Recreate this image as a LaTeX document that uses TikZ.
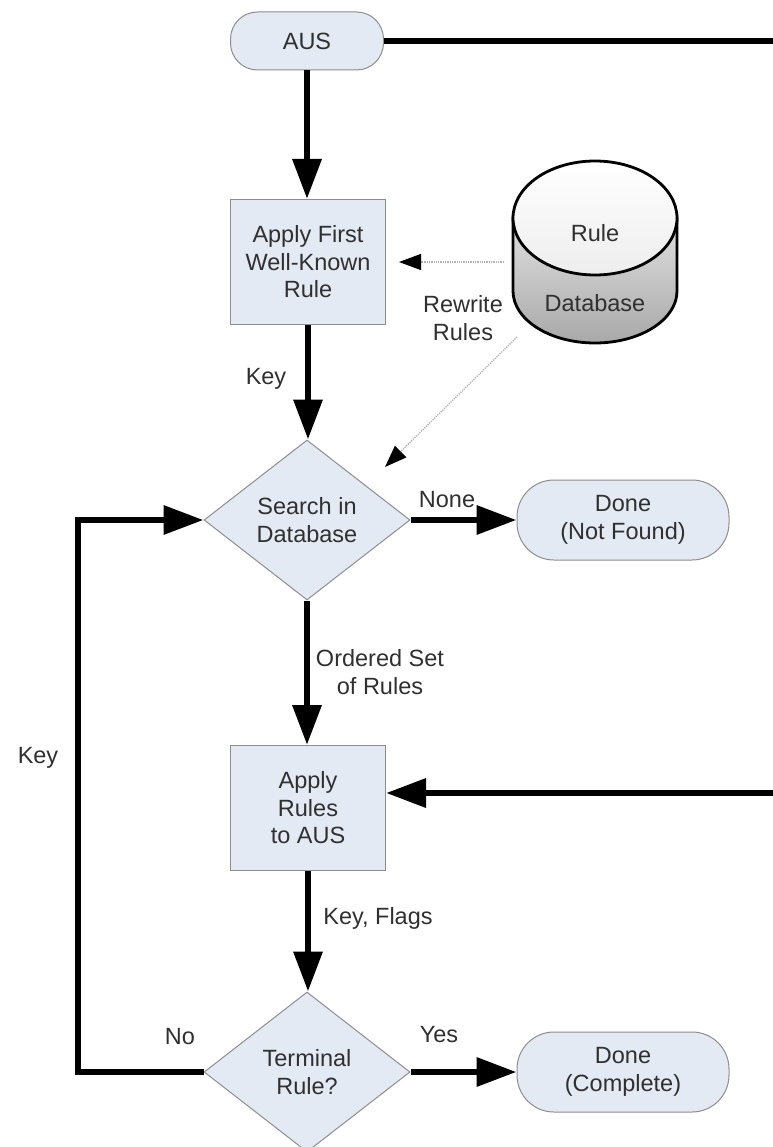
\documentclass[tikz,border=0pt]{standalone}
\usepackage{fontspec}
\setmainfont{Liberation Sans}
\usetikzlibrary{arrows.meta,shapes.geometric,calc}
\definecolor{boxfill}{HTML}{E3EAF4}
\definecolor{boxline}{HTML}{8E8E8E}
\definecolor{txt}{HTML}{303030}
\begin{document}
\begin{tikzpicture}[x=1pt,y=-1pt,
  every node/.style={font=\fontsize{23.5}{27.5}\selectfont, align=center, text=txt},
  procbox/.style={draw=boxline, fill=boxfill, line width=1pt, minimum width=155pt, minimum height=125pt, inner sep=0pt},
  termbox/.style={draw=boxline, fill=boxfill, line width=1pt, rounded corners=37pt, minimum width=212pt, minimum height=80pt, inner sep=0pt},
  decbox/.style={draw=boxline, fill=boxfill, line width=1pt, diamond, minimum width=206pt, minimum height=160pt, inner sep=0pt, aspect=1.29},
  flow/.style={draw=black, line width=6.5pt, -{Triangle[length=40pt,width=28pt]}},
  flowline/.style={draw=black, line width=6.5pt},
  dotarrow/.style={draw=black!30, line width=1.3pt, densely dotted, -{Triangle[length=22pt,width=16pt,color=black,fill=black]}},
  lbl/.style={font=\fontsize{23.5}{27.5}\selectfont}
]
\path[use as bounding box, fill=white] (0,0) rectangle (772,1147);

% nodes
\node[termbox, minimum width=153pt, minimum height=58pt, rounded corners=27pt] (aus) at (307,41) {AUS};
\node[procbox] (apply1) at (308,262) {Apply First\\Well-Known\\Rule};
\node[decbox] (search) at (307,520) {Search in\\Database};
\node[termbox] (notfound) at (623,520) {Done\\(Not Found)};
\node[procbox] (apply2) at (308,808) {Apply\\Rules\\to AUS};
\node[decbox] (term) at (307,1072) {Terminal\\Rule?};
\node[termbox] (complete) at (623,1072) {Done\\(Complete)};

% cylinder (rule database)
\path[draw=black, line width=2.8pt, top color=black!12, bottom color=black!34]
  (513,218) -- (513,291) arc[start angle=180, end angle=0, x radius=82, y radius=52] -- (677,218) -- cycle;
\path[draw=black, line width=2.8pt, top color=white, bottom color=black!7]
  (595,218) ellipse [x radius=82, y radius=57];
\node[minimum width=164pt, minimum height=182pt, inner sep=0pt] (db) at (595,252) {};
\node (dbtext1) at (595,233) {Rule};
\node (dbtext2) at (595,303) {Database};

% coordinates for free ends
\coordinate (rtop) at (776,41);
\coordinate (rmid) at (776,793);
\coordinate (loopx) at (78,0);
\coordinate (dbsw) at (517,337);
\coordinate (dtip) at (385,467);

% connectors
\draw[flowline] (aus.east) -- (aus.east -| rtop);
\draw[flow] (aus.south) -- (aus.south |- apply1.north);
\draw[dotarrow] ([xshift=-9pt]apply1.east -| db.west) -- ([xshift=13pt]apply1.east);
\draw[dotarrow] (dbsw) -- (dtip);
\draw[flow] (apply1.south) -- (apply1.south |- search.north);
\draw[flow] (search.east) -- (notfound.west);
\draw[flow] (search.south) -- (search.south |- apply2.north);
\draw[flow] (rmid) -- (rmid -| apply2.east);
\draw[flow] (apply2.south) -- (apply2.south |- term.north);
\draw[flow] (term.east) -- (complete.west);
\draw[flow] (term.west) -- (term.west -| loopx) |- (search.west);

% labels
\node[lbl] (lkey1) at (266,379) {Key};
\node[lbl] (lrew) at (463,318) {Rewrite\\Rules};
\node[lbl] (lnone) at (447,500) {None};
\node[lbl] (lord) at (380,672) {Ordered Set\\of Rules};
\node[lbl] (lkf) at (378,918) {Key, Flags};
\node[lbl] (lkey2) at (38,758) {Key};
\node[lbl] (lno) at (180,1037) {No};
\node[lbl] (lyes) at (439,1035) {Yes};
\end{tikzpicture}
\end{document}
